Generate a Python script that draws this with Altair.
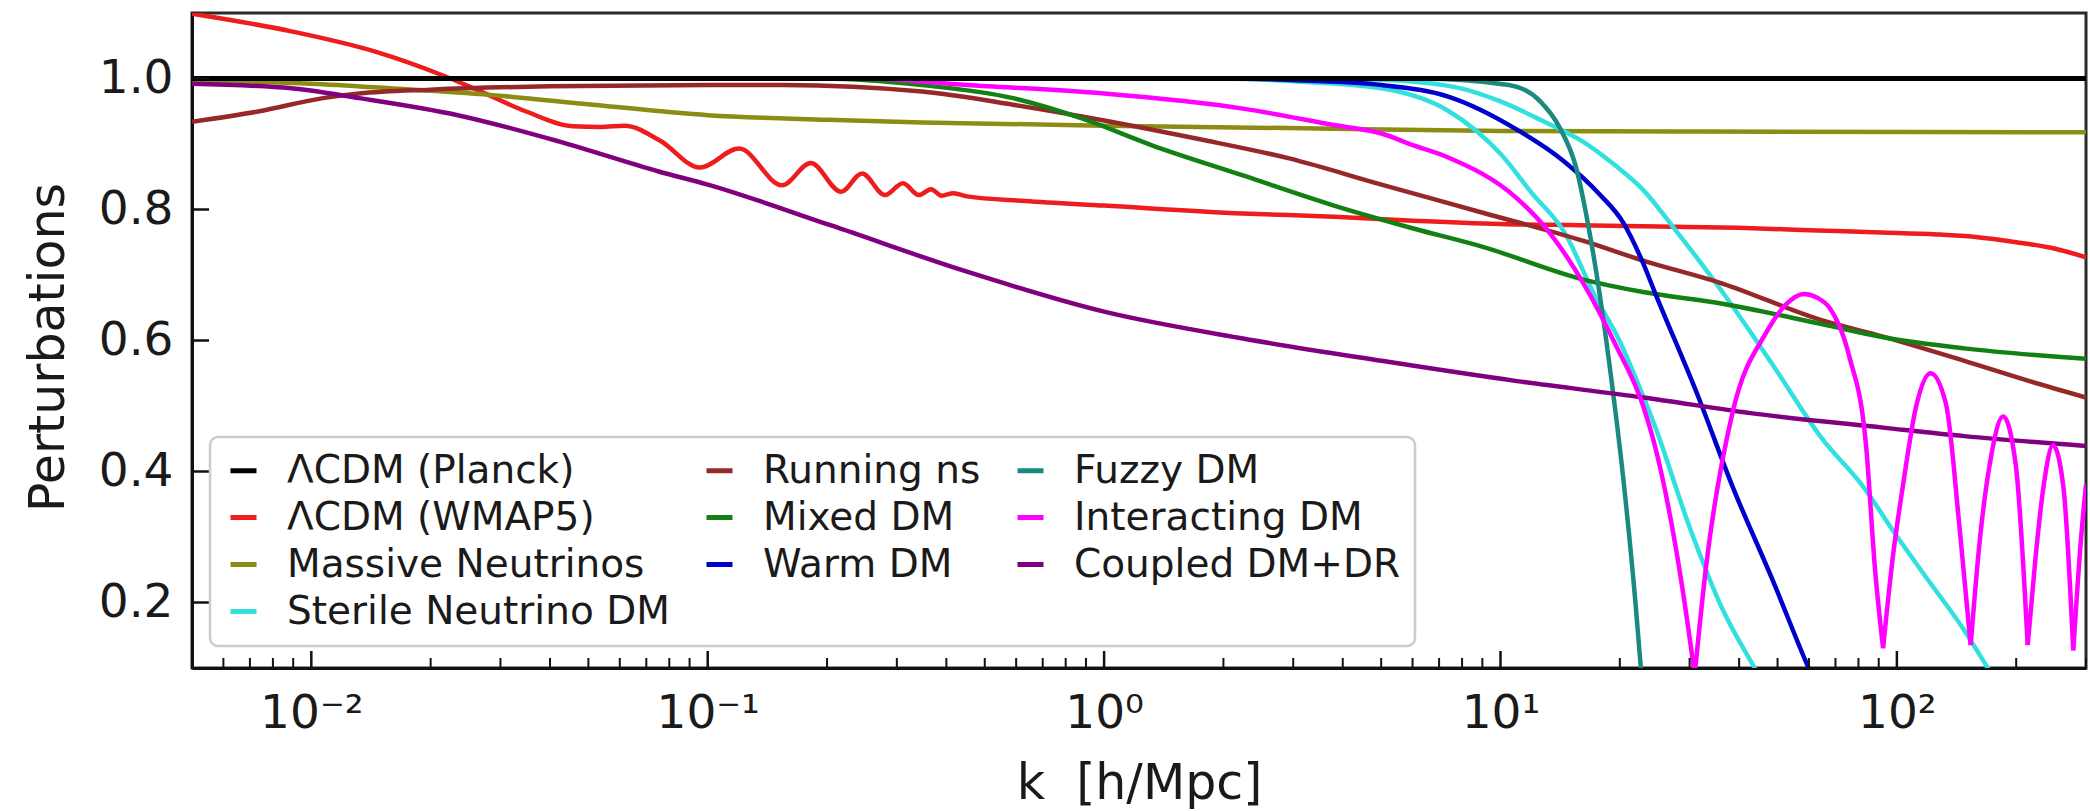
import altair as alt
import pandas as pd

# ---------------- axis ticks / labels ----------------
x_major_ticks = [0.01, 0.1, 1, 10, 100]
x_major_labels = ["10⁻²", "10⁻¹", "10⁰", "10¹", "10²"]
x_major_logs = [-2, -1, 0, 1, 2]
x_minor_ticks = [0.005, 0.006, 0.007, 0.008, 0.009,
                 0.02, 0.03, 0.04, 0.05, 0.06, 0.07, 0.08, 0.09,
                 0.2, 0.3, 0.4, 0.5, 0.6, 0.7, 0.8, 0.9,
                 2, 3, 4, 5, 6, 7, 8, 9,
                 20, 30, 40, 50, 60, 70, 80, 90, 200, 300]
y_major_ticks = [0.2, 0.4, 0.6, 0.8, 1.0]

# ---------------- series (k in h/Mpc, value) ----------------
planck_k = [0.005, 300]
planck_v = [1.0, 1.0]

wmap5_k = [0.005, 0.0089, 0.0145, 0.0214, 0.0257, 0.0347, 0.0457, 0.0537, 0.0617,
           0.0759, 0.0955, 0.120, 0.154, 0.182, 0.217, 0.245, 0.280, 0.311, 0.341,
           0.366, 0.389, 0.417, 0.451, 0.631, 1.0, 2.24, 3.80, 6.03, 10, 15.8, 25.1,
           39.8, 63.1, 91.2, 126, 158, 200, 251, 300]
wmap5_v = [1.099, 1.072, 1.041, 1.005, 0.985, 0.950, 0.927, 0.926, 0.928,
           0.905, 0.864, 0.893, 0.837, 0.871, 0.827, 0.855, 0.822, 0.840, 0.822,
           0.831, 0.821, 0.825, 0.820, 0.813, 0.806, 0.794, 0.789, 0.783, 0.778, 0.776, 0.774,
           0.772, 0.768, 0.765, 0.762, 0.758, 0.750, 0.740, 0.727]

massive_k = [0.005, 0.01, 0.0158, 0.0282, 0.0513, 0.1, 0.2, 0.347, 1, 3.16, 10, 31.6, 300]
massive_v = [0.997, 0.992, 0.985, 0.975, 0.960, 0.944, 0.937, 0.933, 0.928, 0.924, 0.920, 0.919, 0.918]

sterile_a_k = [0.005, 2.0, 3.16, 5.01, 7.41, 10, 12.0, 14.5, 17.4, 19.95, 22.9, 24.5, 30.0, 36.3, 43.3, 50.1]
sterile_a_v = [1.0, 1.0, 0.995, 0.985, 0.950, 0.885, 0.825, 0.765, 0.665, 0.600, 0.515, 0.470, 0.315, 0.190, 0.105, 0.04]

sterile_b_k = [0.005, 3.16, 5.01, 7.94, 10, 12.8, 16.1, 19.5, 22.9, 27.2, 36.3, 48.6, 64.6, 82.2, 99.5, 120, 147, 168, 191]
sterile_b_v = [1.0, 1.0, 0.998, 0.985, 0.965, 0.935, 0.904, 0.867, 0.830, 0.774, 0.674, 0.563, 0.451, 0.377, 0.303, 0.234, 0.160, 0.104, 0.05]

running_k = [0.005, 0.0074, 0.0107, 0.0132, 0.02, 0.0398, 0.1, 0.155, 0.347, 0.589, 1, 1.72, 2.93,
             5.01, 9.02, 16.2, 22.9, 36.3, 64.6, 92.3, 148, 216, 300]
running_v = [0.934, 0.950, 0.970, 0.977, 0.983, 0.988, 0.990, 0.990, 0.980, 0.960, 0.936, 0.908, 0.878,
             0.838, 0.795, 0.752, 0.722, 0.687, 0.631, 0.606, 0.569, 0.538, 0.513]

mixed_k = [0.005, 0.2, 0.347, 0.589, 0.879, 1.32, 2.24, 3.80, 6.03, 9.02, 16.2, 22.9, 36.3, 64.6, 92.3, 148, 300]
mixed_v = [1.0, 1.0, 0.990, 0.970, 0.939, 0.898, 0.852, 0.806, 0.771, 0.743, 0.693, 0.674, 0.656, 0.625, 0.605, 0.588, 0.572]

warm_k = [0.005, 2.0, 3.16, 5.01, 7.41, 11.0, 14.5, 17.8, 20.4, 22.9, 24.5, 31.6, 38.5, 48.6, 58.9, 66.1]
warm_v = [1.0, 1.0, 0.997, 0.990, 0.972, 0.922, 0.873, 0.823, 0.780, 0.718, 0.674, 0.513, 0.377, 0.234, 0.110, 0.04]

fuzzy_k = [0.005, 6.31, 10.5, 12.6, 14.1, 15.5, 16.6, 17.8, 19.05, 20.4, 21.9, 22.6, 23.4]
fuzzy_v = [1.0, 1.0, 0.99, 0.965, 0.925, 0.865, 0.78, 0.67, 0.54, 0.39, 0.20, 0.10, 0.0]

# Interacting DM: oscillating tail, one list per arch (cusp to cusp)
inter_k = [
    [0.005, 0.251, 0.451, 1.0, 2.24, 3.80, 5.01, 6.03, 7.41, 11.0, 13.2, 16.2, 19.5, 22.9, 24.5, 28.8, 30.9],
    [30.9, 33.0, 38.5, 46.8, 52.5, 58.3, 63.1, 67.6, 75.9, 83.6, 88.1, 92.3],
    [92.3, 97.7, 103.5, 112.2, 121.6, 133.0, 143.9, 153.5],
    [153.5, 162.2, 171.4, 185.4, 199.5, 213.8],
    [213.8, 223.9, 234.4, 247.7, 263.0, 278.6],
    [278.6, 291.7, 300],
]
inter_v = [
    [1.0, 1.0, 0.990, 0.977, 0.954, 0.929, 0.916, 0.898, 0.879, 0.817, 0.767, 0.687, 0.594, 0.500, 0.440, 0.220, 0.09],
    [0.09, 0.254, 0.490, 0.612, 0.655, 0.671, 0.665, 0.650, 0.575, 0.440, 0.250, 0.13],
    [0.13, 0.27, 0.377, 0.503, 0.550, 0.503, 0.315, 0.135],
    [0.135, 0.30, 0.41, 0.484, 0.41, 0.135],
    [0.135, 0.27, 0.377, 0.44, 0.377, 0.127],
    [0.127, 0.30, 0.38],
]

coupled_k = [0.005, 0.0089, 0.0132, 0.0234, 0.0421, 0.0752, 0.1, 0.204, 0.451, 1, 2.24, 5.01,
             11.0, 22.9, 44.2, 92.3, 148, 300]
coupled_v = [0.992, 0.985, 0.970, 0.944, 0.904, 0.858, 0.838, 0.776, 0.705, 0.644, 0.603, 0.569,
             0.538, 0.513, 0.488, 0.467, 0.454, 0.439]

# model names / colours (order arranged so the 3-column legend reads like the original)
legend_order = ["ΛCDM (Planck)", "ΛCDM (WMAP5)", "Massive Neutrinos", "Coupled DM+DR",
                "Running ns", "Mixed DM", "Warm DM", "Sterile Neutrino DM",
                "Fuzzy DM", "Interacting DM"]
legend_colors = ["#000000", "#ee1c1c", "#8c8c14", "#800080",
                 "#962828", "#138013", "#0000cd", "#33e0e0",
                 "#1a8a80", "#ff00ff"]

# ---------------- build tables ----------------
series = [
    ("ΛCDM (WMAP5)", "wmap5", wmap5_k, wmap5_v),
    ("Massive Neutrinos", "massive", massive_k, massive_v),
    ("Sterile Neutrino DM", "sterile_a", sterile_a_k, sterile_a_v),
    ("Sterile Neutrino DM", "sterile_b", sterile_b_k, sterile_b_v),
    ("Running ns", "running", running_k, running_v),
    ("Mixed DM", "mixed", mixed_k, mixed_v),
    ("Warm DM", "warm", warm_k, warm_v),
    ("Fuzzy DM", "fuzzy", fuzzy_k, fuzzy_v),
    ("Coupled DM+DR", "coupled", coupled_k, coupled_v),
]
for i, (kk, vv) in enumerate(zip(inter_k, inter_v)):
    series.append(("Interacting DM", f"inter_{i}", kk, vv))

rows = []
for model, curve, ks, vs in series:
    for k, v in zip(ks, vs):
        rows.append({"model": model, "curve": curve, "k": k, "v": v})
curves_df = pd.DataFrame(rows)
planck_df = pd.DataFrame({"model": "ΛCDM (Planck)", "curve": "planck", "k": planck_k, "v": planck_v})

xmaj_df = pd.DataFrame({"k": x_major_ticks})
xmin_df = pd.DataFrame({"k": x_minor_ticks})
ymaj_df = pd.DataFrame({"v": y_major_ticks})

# ---------------- scales / guides ----------------
FONT = "DejaVu Sans"
W, H = 1894, 655
x_scale = alt.Scale(type="log", domain=[0.005, 300], nice=False)
y_scale = alt.Scale(domain=[0.1, 1.1], nice=False, zero=False)

label_expr = " : ".join(
    f"abs(log(datum.value)/LN10 - ({lg})) < 0.01 ? '{lab}'"
    for lg, lab in zip(x_major_logs, x_major_labels)
) + " : ''"

x_axis = alt.Axis(values=x_major_ticks, labelExpr=label_expr, title="k\u00a0\u00a0[h/Mpc]",
                  ticks=False, tickSize=0, grid=False, labelPadding=22, labelFontSize=47,
                  labelFont=FONT, labelColor="#1a1a1a", titleFont=FONT, titleFontSize=49,
                  titleFontWeight="normal", titleColor="#1a1a1a", titleY=130,
                  titleBaseline="alphabetic", labelFlush=False, labelOverlap=False,
                  domainColor="#111111", domainWidth=3)
y_axis = alt.Axis(values=y_major_ticks, format=".1f", title="Perturbations",
                  ticks=False, tickSize=0, grid=False, labelPadding=19, labelFontSize=47,
                  labelFont=FONT, labelColor="#1a1a1a", titleFont=FONT, titleFontSize=49,
                  titleFontWeight="normal", titleColor="#1a1a1a", titleAngle=270,
                  titleX=-129, titleY=334, titleBaseline="alphabetic", titleAlign="center",
                  labelFlush=False, labelOverlap=False, domainColor="#111111", domainWidth=3)

color_enc = alt.Color("model:N",
                      scale=alt.Scale(domain=legend_order, range=legend_colors),
                      legend=alt.Legend(title=None, orient="none", legendX=18, legendY=424,
                                        columns=3, symbolType="stroke", symbolSize=676,
                                        symbolStrokeWidth=5, labelFont=FONT, labelFontSize=39,
                                        labelColor="#1a1a1a", labelLimit=1000, labelOffset=24,
                                        rowPadding=7, columnPadding=26, padding=14))

X = alt.X("k:Q", scale=x_scale, axis=x_axis)
Y = alt.Y("v:Q", scale=y_scale, axis=y_axis)

curves = alt.Chart(curves_df).mark_line(strokeWidth=4.5, interpolate="monotone", clip=True).encode(
    x=X, y=Y, color=color_enc, detail="curve:N",
)

planck = alt.Chart(planck_df).mark_line(strokeWidth=5, clip=True).encode(
    x=X, y=Y, color=color_enc,
)

xmaj = alt.Chart(xmaj_df).mark_rule(color="#111111", strokeWidth=2.5).encode(
    x=X, y=alt.value(H), y2=alt.value(H - 17),
)
xmin = alt.Chart(xmin_df).mark_rule(color="#111111", strokeWidth=2).encode(
    x=X, y=alt.value(H), y2=alt.value(H - 10),
)
ymaj = alt.Chart(ymaj_df).mark_rule(color="#111111", strokeWidth=2.5).encode(
    y=Y, x=alt.value(0), x2=alt.value(17),
)

chart = alt.layer(curves, planck, xmaj, xmin, ymaj).properties(
    width=W, height=H,
    padding={"left": 192, "top": 13, "right": 4, "bottom": 143},
    autosize=alt.AutoSizeParams(type="none"),
    background="white",
).configure_view(
    stroke="#2a2a2a", strokeWidth=3
).configure_legend(
    strokeColor="#cccccc", strokeWidth=2.5, fillColor="rgba(255,255,255,0.8)", cornerRadius=8
)

chart.save("out.html", embed_options={"renderer": "svg", "actions": False})
